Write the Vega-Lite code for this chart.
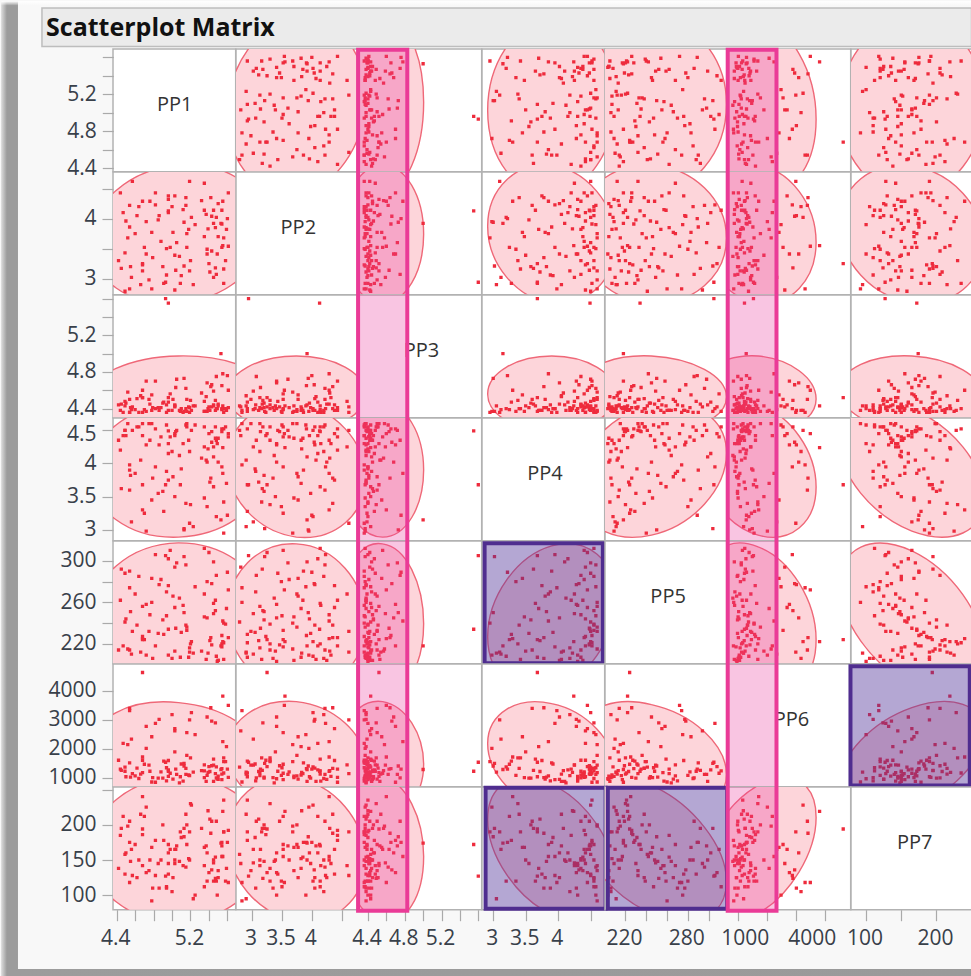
{"$schema":"https://vega.github.io/schema/vega-lite/v6.json","padding":0,"background":"#f8f8f8","columns":7,"spacing":0,"bounds":"flush","align":"each",
"datasets":{"m":[{"PP1":5.07,"PP2":3.74,"PP3":4.56,"PP4":3.9,"PP5":245,"PP6":1700,"PP7":165}],
"d":[
{"PP1":4.57,"PP2":4.62,"PP3":4.42,"PP4":4.5,"PP5":232,"PP6":1150,"PP7":128},
{"PP1":4.44,"PP2":4.43,"PP3":4.38,"PP4":4.2,"PP5":262,"PP6":1300,"PP7":185},
{"PP1":4.54,"PP2":4.22,"PP3":4.5,"PP4":3.6,"PP5":214,"PP6":3400,"PP7":205},
{"PP1":4.64,"PP2":4.2,"PP3":4.36,"PP4":4.55,"PP5":285,"PP6":980,"PP7":150},
{"PP1":4.68,"PP2":4.29,"PP3":4.6,"PP4":3.3,"PP5":225,"PP6":1720,"PP7":240},
{"PP1":4.76,"PP2":4.29,"PP3":4.45,"PP4":4.35,"PP5":248,"PP6":1230,"PP7":150},
{"PP1":4.82,"PP2":4.23,"PP3":4.4,"PP4":3.95,"PP5":306,"PP6":2880,"PP7":128},
{"PP1":4.82,"PP2":4.43,"PP3":4.7,"PP4":4.52,"PP5":218,"PP6":850,"PP7":178},
{"PP1":4.96,"PP2":4.38,"PP3":4.38,"PP4":3.75,"PP5":276,"PP6":1600,"PP7":130},
{"PP1":4.96,"PP2":4.32,"PP3":4.52,"PP4":4.3,"PP5":209,"PP6":1050,"PP7":145},
{"PP1":5.03,"PP2":4.38,"PP3":4.44,"PP4":4.45,"PP5":255,"PP6":2700,"PP7":165},
{"PP1":5.15,"PP2":4.35,"PP3":4.4,"PP4":3.4,"PP5":238,"PP6":1330,"PP7":215},
{"PP1":5.15,"PP2":4.22,"PP3":4.62,"PP4":4.58,"PP5":296,"PP6":1120,"PP7":140},
{"PP1":5.19,"PP2":4.62,"PP3":4.36,"PP4":3.1,"PP5":212,"PP6":3000,"PP7":190},
{"PP1":5.35,"PP2":4.59,"PP3":4.48,"PP4":4.25,"PP5":268,"PP6":1450,"PP7":142},
{"PP1":5.61,"PP2":4.43,"PP3":4.41,"PP4":4.4,"PP5":226,"PP6":1020,"PP7":192},
{"PP1":5.55,"PP2":4.29,"PP3":4.78,"PP4":3.85,"PP5":242,"PP6":2250,"PP7":155},
{"PP1":5.35,"PP2":4.14,"PP3":4.37,"PP4":4.55,"PP5":312,"PP6":1240,"PP7":112},
{"PP1":5.37,"PP2":4.07,"PP3":4.53,"PP4":4.05,"PP5":205,"PP6":880,"PP7":170},
{"PP1":5.45,"PP2":4.14,"PP3":4.43,"PP4":3.65,"PP5":259,"PP6":1650,"PP7":120},
{"PP1":5.54,"PP2":4.14,"PP3":4.39,"PP4":4.48,"PP5":220,"PP6":1130,"PP7":170},
{"PP1":5.43,"PP2":4.04,"PP3":4.66,"PP4":4.32,"PP5":278,"PP6":2960,"PP7":136},
{"PP1":5.48,"PP2":4.02,"PP3":4.4,"PP4":3.2,"PP5":208,"PP6":1380,"PP7":120},
{"PP1":4.5,"PP2":3.96,"PP3":4.46,"PP4":4.42,"PP5":244,"PP6":1040,"PP7":160},
{"PP1":4.54,"PP2":3.86,"PP3":4.36,"PP4":3.9,"PP5":290,"PP6":1520,"PP7":175},
{"PP1":4.52,"PP2":3.68,"PP3":4.58,"PP4":4.6,"PP5":215,"PP6":2150,"PP7":198},
{"PP1":4.85,"PP2":3.98,"PP3":4.41,"PP4":3.55,"PP5":230,"PP6":990,"PP7":145},
{"PP1":4.96,"PP2":4.1,"PP3":4.47,"PP4":4.15,"PP5":302,"PP6":1280,"PP7":160},
{"PP1":5.21,"PP2":4.02,"PP3":4.38,"PP4":4.5,"PP5":222,"PP6":3250,"PP7":228},
{"PP1":5.13,"PP2":3.94,"PP3":4.73,"PP4":3.0,"PP5":250,"PP6":1410,"PP7":183},
{"PP1":5.18,"PP2":3.82,"PP3":4.42,"PP4":4.35,"PP5":207,"PP6":1100,"PP7":152},
{"PP1":5.01,"PP2":3.77,"PP3":4.5,"PP4":3.8,"PP5":266,"PP6":960,"PP7":125},
{"PP1":5.16,"PP2":3.75,"PP3":4.37,"PP4":4.6,"PP5":236,"PP6":1780,"PP7":200},
{"PP1":4.78,"PP2":3.77,"PP3":4.55,"PP4":3.45,"PP5":283,"PP6":2420,"PP7":168},
{"PP1":5.39,"PP2":3.83,"PP3":4.4,"PP4":4.22,"PP5":211,"PP6":1190,"PP7":220},
{"PP1":5.45,"PP2":3.92,"PP3":4.44,"PP4":4.1,"PP5":299,"PP6":880,"PP7":150},
{"PP1":5.54,"PP2":3.91,"PP3":4.65,"PP4":4.52,"PP5":228,"PP6":1320,"PP7":175},
{"PP1":5.59,"PP2":3.82,"PP3":4.38,"PP4":3.7,"PP5":254,"PP6":2080,"PP7":138},
{"PP1":5.5,"PP2":3.7,"PP3":4.43,"PP4":4.38,"PP5":204,"PP6":1060,"PP7":135},
{"PP1":5.56,"PP2":3.68,"PP3":4.36,"PP4":2.95,"PP5":240,"PP6":1560,"PP7":190},
{"PP1":5.61,"PP2":3.54,"PP3":4.6,"PP4":4.45,"PP5":272,"PP6":3500,"PP7":118},
{"PP1":5.54,"PP2":3.52,"PP3":4.4,"PP4":3.95,"PP5":217,"PP6":940,"PP7":155},
{"PP1":4.49,"PP2":3.43,"PP3":4.48,"PP4":4.5,"PP5":288,"PP6":1230,"PP7":130},
{"PP1":4.7,"PP2":3.52,"PP3":4.39,"PP4":3.25,"PP5":224,"PP6":1470,"PP7":212},
{"PP1":4.72,"PP2":3.41,"PP3":4.7,"PP4":4.28,"PP5":258,"PP6":2780,"PP7":132},
{"PP1":4.79,"PP2":3.35,"PP3":4.41,"PP4":3.78,"PP5":206,"PP6":1010,"PP7":110},
{"PP1":4.94,"PP2":3.5,"PP3":4.36,"PP4":4.58,"PP5":247,"PP6":1350,"PP7":112},
{"PP1":4.98,"PP2":3.52,"PP3":4.56,"PP4":4.4,"PP5":310,"PP6":1160,"PP7":165},
{"PP1":5.03,"PP2":3.39,"PP3":4.43,"PP4":3.5,"PP5":213,"PP6":1900,"PP7":150},
{"PP1":5.08,"PP2":3.37,"PP3":4.38,"PP4":4.12,"PP5":264,"PP6":830,"PP7":148},
{"PP1":5.16,"PP2":3.52,"PP3":4.5,"PP4":4.55,"PP5":233,"PP6":2560,"PP7":172},
{"PP1":5.38,"PP2":3.49,"PP3":4.37,"PP4":3.35,"PP5":280,"PP6":1090,"PP7":120},
{"PP1":5.43,"PP2":3.46,"PP3":4.42,"PP4":4.48,"PP5":219,"PP6":1420,"PP7":205},
{"PP1":5.38,"PP2":3.41,"PP3":4.68,"PP4":4.02,"PP5":245,"PP6":3100,"PP7":160},
{"PP1":5.49,"PP2":3.41,"PP3":4.4,"PP4":4.3,"PP5":203,"PP6":970,"PP7":100},
{"PP1":4.45,"PP2":3.17,"PP3":4.45,"PP4":3.62,"PP5":292,"PP6":1260,"PP7":195},
{"PP1":4.68,"PP2":3.23,"PP3":4.36,"PP4":4.42,"PP5":227,"PP6":1610,"PP7":186},
{"PP1":4.68,"PP2":3.13,"PP3":4.52,"PP4":4.6,"PP5":256,"PP6":1180,"PP7":142},
{"PP1":4.56,"PP2":3.02,"PP3":4.39,"PP4":3.12,"PP5":210,"PP6":2340,"PP7":165},
{"PP1":4.94,"PP2":3.06,"PP3":4.44,"PP4":3.88,"PP5":270,"PP6":900,"PP7":110},
{"PP1":5.04,"PP2":3.14,"PP3":4.63,"PP4":4.48,"PP5":235,"PP6":1300,"PP7":165},
{"PP1":5.13,"PP2":3.21,"PP3":4.37,"PP4":3.02,"PP5":304,"PP6":1500,"PP7":195},
{"PP1":5.19,"PP2":3.13,"PP3":4.41,"PP4":4.18,"PP5":216,"PP6":1080,"PP7":150},
{"PP1":5.47,"PP2":3.18,"PP3":4.49,"PP4":4.55,"PP5":252,"PP6":2900,"PP7":124},
{"PP1":5.41,"PP2":3.11,"PP3":4.38,"PP4":3.72,"PP5":223,"PP6":1220,"PP7":208},
{"PP1":5.48,"PP2":3.07,"PP3":4.75,"PP4":4.35,"PP5":286,"PP6":1000,"PP7":205},
{"PP1":5.56,"PP2":3.16,"PP3":4.4,"PP4":3.42,"PP5":205,"PP6":1690,"PP7":190},
{"PP1":4.49,"PP2":2.79,"PP3":4.43,"PP4":4.5,"PP5":241,"PP6":1370,"PP7":158},
{"PP1":4.54,"PP2":2.83,"PP3":4.36,"PP4":3.98,"PP5":274,"PP6":3320,"PP7":118},
{"PP1":4.66,"PP2":2.9,"PP3":4.54,"PP4":4.05,"PP5":212,"PP6":1130,"PP7":215},
{"PP1":4.78,"PP2":2.83,"PP3":4.38,"PP4":4.6,"PP5":260,"PP6":860,"PP7":92},
{"PP1":4.91,"PP2":2.92,"PP3":4.47,"PP4":3.28,"PP5":229,"PP6":1580,"PP7":178},
{"PP1":5.03,"PP2":2.81,"PP3":4.42,"PP4":4.42,"PP5":294,"PP6":2620,"PP7":145},
{"PP1":5.09,"PP2":2.92,"PP3":4.37,"PP4":3.68,"PP5":207,"PP6":1040,"PP7":190},
{"PP1":5.45,"PP2":3.02,"PP3":4.59,"PP4":4.25,"PP5":249,"PP6":1440,"PP7":146},
{"PP1":5.56,"PP2":2.92,"PP3":4.4,"PP4":4.52,"PP5":221,"PP6":1170,"PP7":235},
{"PP1":4.93,"PP2":2.94,"PP3":5.6,"PP4":3.68,"PP5":305,"PP6":1540,"PP7":127},
{"PP1":4.96,"PP2":4.13,"PP3":5.55,"PP4":4.49,"PP5":234,"PP6":1230,"PP7":172},
{"PP1":5.53,"PP2":3.92,"PP3":5.0,"PP4":3.15,"PP5":218,"PP6":1290,"PP7":174},
{"PP1":4.68,"PP2":3.25,"PP3":4.52,"PP4":3.68,"PP5":224,"PP6":4635,"PP7":194},
{"PP1":5.55,"PP2":3.55,"PP3":4.43,"PP4":4.24,"PP5":222,"PP6":3820,"PP7":219},
{"PP1":4.42,"PP2":3.3,"PP3":4.44,"PP4":4.35,"PP5":214,"PP6":1610,"PP7":138},
{"PP1":4.6,"PP2":3.75,"PP3":4.39,"PP4":3.85,"PP5":268,"PP6":1070,"PP7":172},
{"PP1":4.62,"PP2":4.05,"PP3":4.51,"PP4":4.55,"PP5":238,"PP6":1340,"PP7":125},
{"PP1":4.72,"PP2":3.95,"PP3":4.37,"PP4":2.98,"PP5":209,"PP6":2020,"PP7":225},
{"PP1":4.88,"PP2":3.62,"PP3":4.41,"PP4":4.4,"PP5":282,"PP6":1210,"PP7":150},
{"PP1":4.9,"PP2":3.2,"PP3":4.46,"PP4":3.58,"PP5":243,"PP6":990,"PP7":200},
{"PP1":5.0,"PP2":4.2,"PP3":4.38,"PP4":4.18,"PP5":206,"PP6":3180,"PP7":105},
{"PP1":5.05,"PP2":3.6,"PP3":4.72,"PP4":4.5,"PP5":298,"PP6":1120,"PP7":170},
{"PP1":5.1,"PP2":3.05,"PP3":4.4,"PP4":3.92,"PP5":231,"PP6":1480,"PP7":182},
{"PP1":5.12,"PP2":4.15,"PP3":4.36,"PP4":4.3,"PP5":257,"PP6":890,"PP7":142},
{"PP1":5.2,"PP2":3.3,"PP3":4.49,"PP4":3.38,"PP5":220,"PP6":1690,"PP7":230},
{"PP1":5.25,"PP2":3.9,"PP3":4.43,"PP4":4.58,"PP5":275,"PP6":2490,"PP7":100},
{"PP1":5.32,"PP2":4.3,"PP3":4.57,"PP4":4.08,"PP5":213,"PP6":1250,"PP7":195},
{"PP1":5.35,"PP2":3.7,"PP3":4.37,"PP4":3.48,"PP5":246,"PP6":1010,"PP7":168},
{"PP1":5.4,"PP2":3.25,"PP3":4.42,"PP4":4.45,"PP5":308,"PP6":1390,"PP7":132},
{"PP1":5.42,"PP2":4.35,"PP3":4.64,"PP4":3.78,"PP5":226,"PP6":3420,"PP7":188},
{"PP1":5.47,"PP2":3.85,"PP3":4.38,"PP4":4.38,"PP5":262,"PP6":1150,"PP7":154},
{"PP1":5.5,"PP2":4.25,"PP3":4.45,"PP4":4.02,"PP5":204,"PP6":950,"PP7":125},
{"PP1":5.58,"PP2":3.3,"PP3":4.4,"PP4":4.55,"PP5":239,"PP6":1560,"PP7":120},
{"PP1":5.6,"PP2":4.0,"PP3":4.76,"PP4":3.22,"PP5":289,"PP6":1300,"PP7":175},
{"PP1":4.47,"PP2":4.1,"PP3":4.36,"PP4":4.42,"PP5":218,"PP6":2190,"PP7":212},
{"PP1":4.55,"PP2":3.2,"PP3":4.41,"PP4":3.82,"PP5":251,"PP6":1030,"PP7":148},
{"PP1":4.75,"PP2":2.98,"PP3":4.5,"PP4":4.6,"PP5":232,"PP6":1440,"PP7":135},
{"PP1":4.86,"PP2":4.05,"PP3":4.38,"PP4":4.28,"PP5":277,"PP6":3020,"PP7":110},
{"PP1":5.23,"PP2":2.9,"PP3":4.43,"PP4":3.05,"PP5":211,"PP6":1200,"PP7":95}
]},
"concat":[
{"data":{"name":"m"},"layer":[
{"mark":{"type":"rect","fill":{"x1":0,"y1":0,"x2":1,"y2":0,"gradient":"linear","stops":[{"offset":0,"color":"#dddddd"},{"offset":0.002,"color":"#c8c8c8"},{"offset":0.006,"color":"#9c9c9c"},{"offset":1,"color":"#9a9a9a"}]}},"encoding":{"x":{"datum":3.147,"scale":{"domain":[4.36,5.69]}},"x2":{"datum":13.666},"y":{"datum":6.209,"scale":{"domain":[4.36,5.69]}},"y2":{"datum":-4.37}}},
{"mark":{"type":"rect","fill":"#f8f8f8"},"encoding":{"x":{"datum":3.33,"scale":{"domain":[4.36,5.69]}},"x2":{"datum":13.666},"y":{"datum":6.209,"scale":{"domain":[4.36,5.69]}},"y2":{"datum":-4.282}}},
{"mark":{"type":"rect","fill":{"x1":0,"y1":0,"x2":0,"y2":1,"gradient":"linear","stops":[{"offset":0,"color":"#ffffff"},{"offset":1,"color":"rgba(255,255,255,0)"}]}},"encoding":{"x":{"datum":3.147,"scale":{"domain":[4.36,5.69]}},"x2":{"datum":13.666},"y":{"datum":6.209,"scale":{"domain":[4.36,5.69]}},"y2":{"datum":6.16}}},
{"mark":{"type":"rect","fill":"#ebebeb","stroke":"#bdbdbd","strokeWidth":1.5},"encoding":{"x":{"datum":3.59,"scale":{"domain":[4.36,5.69]}},"x2":{"datum":13.666},"y":{"datum":6.134,"scale":{"domain":[4.36,5.69]}},"y2":{"datum":5.717}}},
{"mark":{"type":"text","align":"left","baseline":"alphabetic","font":"Open Sans","fontWeight":"bold","fontSize":25,"color":"#111111"},"encoding":{"x":{"datum":3.634,"scale":{"domain":[4.36,5.69]}},"y":{"datum":5.831,"scale":{"domain":[4.36,5.69]}},"text":{"value":"Scatterplot Matrix"}}},
{"mark":{"type":"rect","fill":"#ffffff","stroke":"#b2b2b2","strokeWidth":1.5},"encoding":{"x":{"datum":4.36,"scale":{"domain":[4.36,5.69]}},"x2":{"datum":5.69},"y":{"datum":4.36,"scale":{"domain":[4.36,5.69]}},"y2":{"datum":5.69}}},
{"mark":"text","encoding":{"x":{"datum":5.03,"scale":{"domain":[4.36,5.69]}},"y":{"datum":5.083,"scale":{"domain":[4.36,5.69]}},"text":{"value":"PP1"}}}]},
{"data":{"name":"m"},"encoding":{"x":{"field":"PP2","type":"quantitative","scale":{"domain":[2.73,4.785]}},"y":{"field":"PP1","type":"quantitative","scale":{"domain":[4.36,5.69]},"axis":{"disable":false,"title":null,"offset":122.7,"values":[4.4,4.6,4.8,5,5.2,5.4,5.6],"labelExpr":"indexof([4.4,4.8,5.2],datum.value)<0?'':''+datum.value"}}},"layer":[{"mark":{"type":"point","clip":true,"shape":"M69 -9C69 40 38 83 0 88C-38 93 -69 57 -69 9C-69 -40 -38 -83 0 -88C38 -93 69 -57 69 -9Z"}},{"data":{"name":"d"},"mark":{"type":"square","clip":true}}]},
{"data":{"name":"m"},"encoding":{"x":{"field":"PP3","type":"quantitative","scale":{"domain":[4.303,5.637]}},"y":{"field":"PP1","type":"quantitative","scale":{"domain":[4.36,5.69]}}},"layer":[{"mark":{"type":"point","clip":true,"shape":"M41 -4C41 44 23 86 0 88C-23 90 -41 53 -41 4C-41 -44 -23 -86 0 -88C23 -90 41 -53 41 -4Z"}},{"data":{"name":"d"},"mark":{"type":"square","clip":true}},{"mark":{"type":"rect","fill":"#ec40a0","fillOpacity":0.3},"encoding":{"x":{"datum":4.303},"x2":{"datum":4.828},"y":{"datum":4.36},"y2":{"datum":5.69}}}]},
{"data":{"name":"m"},"encoding":{"x":{"field":"PP4","type":"quantitative","scale":{"domain":[2.828,4.716]}},"y":{"field":"PP1","type":"quantitative","scale":{"domain":[4.36,5.69]}}},"layer":[{"mark":{"type":"point","clip":true,"shape":"M64 -4C64 44 35 86 0 88C-35 90 -64 53 -64 4C-64 -44 -35 -86 0 -88C35 -90 64 -53 64 -4Z"}},{"data":{"name":"d"},"mark":{"type":"square","clip":true}}]},
{"data":{"name":"m"},"encoding":{"x":{"field":"PP5","type":"quantitative","scale":{"domain":[200.3,318.3]}},"y":{"field":"PP1","type":"quantitative","scale":{"domain":[4.36,5.69]}}},"layer":[{"mark":{"type":"point","clip":true,"shape":"M75 -2C75 47 41 87 0 88C-41 89 -75 50 -75 2C-75 -47 -41 -87 0 -88C41 -89 75 -50 75 -2Z"}},{"data":{"name":"d"},"mark":{"type":"square","clip":true}}]},
{"data":{"name":"m"},"encoding":{"x":{"field":"PP6","type":"quantitative","scale":{"domain":[662,4893]}},"y":{"field":"PP1","type":"quantitative","scale":{"domain":[4.36,5.69]}}},"layer":[{"mark":{"type":"point","clip":true,"shape":"M58 13C58 61 32 94 0 87C-32 80 -58 35 -58 -13C-58 -61 -32 -94 0 -87C32 -80 58 -35 58 13Z"}},{"data":{"name":"d"},"mark":{"type":"square","clip":true}},{"mark":{"type":"rect","fill":"#ec40a0","fillOpacity":0.3},"encoding":{"x":{"datum":662},"x2":{"datum":2334},"y":{"datum":4.36},"y2":{"datum":5.69}}}]},
{"width":122.8,"data":{"name":"m"},"encoding":{"x":{"field":"PP7","type":"quantitative","scale":{"domain":[78.55,253]}},"y":{"field":"PP1","type":"quantitative","scale":{"domain":[4.36,5.69]}}},"layer":[{"mark":{"type":"point","clip":true,"shape":"M72 -3C72 46 40 87 0 88C-40 90 -72 51 -72 3C-72 -46 -40 -87 0 -88C40 -90 72 -51 72 -3Z"}},{"data":{"name":"d"},"mark":{"type":"square","clip":true}}]},

{"data":{"name":"m"},"encoding":{"x":{"field":"PP1","type":"quantitative","scale":{"domain":[4.36,5.69]}},"y":{"field":"PP2","type":"quantitative","scale":{"domain":[2.732,4.777]},"axis":{"disable":false,"title":null,"values":[3,3.5,4,4.5],"labelExpr":"indexof([3,4],datum.value)<0?'':''+datum.value"}}},"layer":[{"mark":{"type":"point","clip":true,"shape":"M88 -7C88 31 49 65 0 69C-49 73 -88 45 -88 7C-88 -31 -49 -65 0 -69C49 -73 88 -45 88 -7Z"}},{"data":{"name":"d"},"mark":{"type":"square","clip":true}}]},
{"data":{"name":"m"},"layer":[{"mark":"text","encoding":{"x":{"datum":3.774,"scale":{"domain":[2.73,4.785]}},"y":{"datum":3.839,"scale":{"domain":[2.732,4.777]}},"text":{"value":"PP2"}}}]},
{"data":{"name":"m"},"encoding":{"x":{"field":"PP3","type":"quantitative","scale":{"domain":[4.303,5.637]}},"y":{"field":"PP2","type":"quantitative","scale":{"domain":[2.732,4.777]}}},"layer":[{"mark":{"type":"point","clip":true,"shape":"M41 0C41 38 23 69 0 69C-23 69 -41 38 -41 0C-41 -38 -23 -69 0 -69C23 -69 41 -38 41 0Z"}},{"data":{"name":"d"},"mark":{"type":"square","clip":true}},{"mark":{"type":"rect","fill":"#ec40a0","fillOpacity":0.3},"encoding":{"x":{"datum":4.303},"x2":{"datum":4.828},"y":{"datum":2.732},"y2":{"datum":4.777}}}]},
{"data":{"name":"m"},"encoding":{"x":{"field":"PP4","type":"quantitative","scale":{"domain":[2.828,4.716]}},"y":{"field":"PP2","type":"quantitative","scale":{"domain":[2.732,4.777]}}},"layer":[{"mark":{"type":"point","clip":true,"shape":"M64 8C64 46 35 73 0 69C-35 64 -64 30 -64 -8C-64 -46 -35 -73 0 -69C35 -64 64 -30 64 8Z"}},{"data":{"name":"d"},"mark":{"type":"square","clip":true}}]},
{"data":{"name":"m"},"encoding":{"x":{"field":"PP5","type":"quantitative","scale":{"domain":[200.3,318.3]}},"y":{"field":"PP2","type":"quantitative","scale":{"domain":[2.732,4.777]}}},"layer":[{"mark":{"type":"point","clip":true,"shape":"M75 4C75 42 41 71 0 69C-41 67 -75 35 -75 -4C-75 -42 -41 -71 0 -69C41 -67 75 -35 75 4Z"}},{"data":{"name":"d"},"mark":{"type":"square","clip":true}}]},
{"data":{"name":"m"},"encoding":{"x":{"field":"PP6","type":"quantitative","scale":{"domain":[662,4893]}},"y":{"field":"PP2","type":"quantitative","scale":{"domain":[2.732,4.777]}}},"layer":[{"mark":{"type":"point","clip":true,"shape":"M58 8C58 46 32 73 0 69C-32 64 -58 30 -58 -8C-58 -46 -32 -73 0 -69C32 -64 58 -30 58 8Z"}},{"data":{"name":"d"},"mark":{"type":"square","clip":true}},{"mark":{"type":"rect","fill":"#ec40a0","fillOpacity":0.3},"encoding":{"x":{"datum":662},"x2":{"datum":2334},"y":{"datum":2.732},"y2":{"datum":4.777}}}]},
{"width":122.8,"data":{"name":"m"},"encoding":{"x":{"field":"PP7","type":"quantitative","scale":{"domain":[78.55,253]}},"y":{"field":"PP2","type":"quantitative","scale":{"domain":[2.732,4.777]}}},"layer":[{"mark":{"type":"point","clip":true,"shape":"M72 10C72 48 40 74 0 68C-40 63 -72 27 -72 -10C-72 -48 -40 -74 0 -68C40 -63 72 -27 72 10Z"}},{"data":{"name":"d"},"mark":{"type":"square","clip":true}}]},

{"data":{"name":"m"},"encoding":{"x":{"field":"PP1","type":"quantitative","scale":{"domain":[4.36,5.69]}},"y":{"field":"PP3","type":"quantitative","scale":{"domain":[4.301,5.639]},"axis":{"disable":false,"title":null,"values":[4.4,4.6,4.8,5,5.2,5.4,5.6],"labelExpr":"indexof([4.4,4.8,5.2],datum.value)<0?'':''+datum.value"}}},"layer":[{"mark":{"type":"point","clip":true,"shape":"M88 -2C88 19 49 37 0 38C-49 39 -88 23 -88 2C-88 -19 -49 -37 0 -38C49 -39 88 -23 88 -2Z"}},{"data":{"name":"d"},"mark":{"type":"square","clip":true}}]},
{"data":{"name":"m"},"encoding":{"x":{"field":"PP2","type":"quantitative","scale":{"domain":[2.73,4.785]}},"y":{"field":"PP3","type":"quantitative","scale":{"domain":[4.301,5.639]}}},"layer":[{"mark":{"type":"point","clip":true,"shape":"M69 0C69 21 38 38 0 38C-38 38 -69 21 -69 0C-69 -21 -38 -38 0 -38C38 -38 69 -21 69 0Z"}},{"data":{"name":"d"},"mark":{"type":"square","clip":true}}]},
{"data":{"name":"m"},"layer":[{"mark":"text","encoding":{"x":{"datum":4.983,"scale":{"domain":[4.303,5.637]}},"y":{"datum":5.032,"scale":{"domain":[4.301,5.639]}},"text":{"value":"PP3"}}},{"mark":{"type":"rect","fill":"#ec40a0","fillOpacity":0.3},"encoding":{"x":{"datum":4.303,"scale":{"domain":[4.303,5.637]}},"x2":{"datum":4.828},"y":{"datum":4.301,"scale":{"domain":[4.301,5.639]}},"y2":{"datum":5.639}}}]},
{"data":{"name":"m"},"encoding":{"x":{"field":"PP4","type":"quantitative","scale":{"domain":[2.828,4.716]}},"y":{"field":"PP3","type":"quantitative","scale":{"domain":[4.301,5.639]}}},"layer":[{"mark":{"type":"point","clip":true,"shape":"M64 0C64 21 35 38 0 38C-35 38 -64 21 -64 0C-64 -21 -35 -38 0 -38C35 -38 64 -21 64 0Z"}},{"data":{"name":"d"},"mark":{"type":"square","clip":true}}]},
{"data":{"name":"m"},"encoding":{"x":{"field":"PP5","type":"quantitative","scale":{"domain":[200.3,318.3]}},"y":{"field":"PP3","type":"quantitative","scale":{"domain":[4.301,5.639]}}},"layer":[{"mark":{"type":"point","clip":true,"shape":"M75 3C75 24 41 40 0 38C-41 36 -75 18 -75 -3C-75 -24 -41 -40 0 -38C41 -36 75 -18 75 3Z"}},{"data":{"name":"d"},"mark":{"type":"square","clip":true}}]},
{"data":{"name":"m"},"encoding":{"x":{"field":"PP6","type":"quantitative","scale":{"domain":[662,4893]}},"y":{"field":"PP3","type":"quantitative","scale":{"domain":[4.301,5.639]}}},"layer":[{"mark":{"type":"point","clip":true,"shape":"M58 5C58 25 32 40 0 38C-32 35 -58 16 -58 -5C-58 -25 -32 -40 0 -38C32 -35 58 -16 58 5Z"}},{"data":{"name":"d"},"mark":{"type":"square","clip":true}},{"mark":{"type":"rect","fill":"#ec40a0","fillOpacity":0.3},"encoding":{"x":{"datum":662},"x2":{"datum":2334},"y":{"datum":4.301},"y2":{"datum":5.639}}}]},
{"width":122.8,"data":{"name":"m"},"encoding":{"x":{"field":"PP7","type":"quantitative","scale":{"domain":[78.55,253]}},"y":{"field":"PP3","type":"quantitative","scale":{"domain":[4.301,5.639]}}},"layer":[{"mark":{"type":"point","clip":true,"shape":"M72 4C72 25 40 40 0 38C-40 36 -72 17 -72 -4C-72 -25 -40 -40 0 -38C40 -36 72 -17 72 4Z"}},{"data":{"name":"d"},"mark":{"type":"square","clip":true}}]},

{"data":{"name":"m"},"encoding":{"x":{"field":"PP1","type":"quantitative","scale":{"domain":[4.36,5.69]}},"y":{"field":"PP4","type":"quantitative","scale":{"domain":[2.837,4.685]},"axis":{"disable":false,"title":null,"values":[3,3.5,4,4.5],"labelExpr":"''+datum.value","labelOffset":{"condition":{"test":"datum.value==4.5","value":4},"value":0}}}},"layer":[{"mark":{"type":"point","clip":true,"shape":"M88 -3C88 34 49 65 0 67C-49 69 -88 40 -88 3C-88 -34 -49 -65 0 -67C49 -69 88 -40 88 -3Z"}},{"data":{"name":"d"},"mark":{"type":"square","clip":true}}]},
{"data":{"name":"m"},"encoding":{"x":{"field":"PP2","type":"quantitative","scale":{"domain":[2.73,4.785]}},"y":{"field":"PP4","type":"quantitative","scale":{"domain":[2.837,4.685]}}},"layer":[{"mark":{"type":"point","clip":true,"shape":"M69 8C69 45 38 71 0 67C-38 62 -69 29 -69 -8C-69 -45 -38 -71 0 -67C38 -62 69 -29 69 8Z"}},{"data":{"name":"d"},"mark":{"type":"square","clip":true}}]},
{"data":{"name":"m"},"encoding":{"x":{"field":"PP3","type":"quantitative","scale":{"domain":[4.303,5.637]}},"y":{"field":"PP4","type":"quantitative","scale":{"domain":[2.837,4.685]}}},"layer":[{"mark":{"type":"point","clip":true,"shape":"M41 0C41 37 23 67 0 67C-23 67 -41 37 -41 0C-41 -37 -23 -67 0 -67C23 -67 41 -37 41 0Z"}},{"data":{"name":"d"},"mark":{"type":"square","clip":true}},{"mark":{"type":"rect","fill":"#ec40a0","fillOpacity":0.3},"encoding":{"x":{"datum":4.303},"x2":{"datum":4.828},"y":{"datum":2.837},"y2":{"datum":4.685}}}]},
{"data":{"name":"m"},"layer":[{"mark":"text","encoding":{"x":{"datum":3.796,"scale":{"domain":[2.828,4.716]}},"y":{"datum":3.843,"scale":{"domain":[2.837,4.685]}},"text":{"value":"PP4"}}}]},
{"data":{"name":"m"},"encoding":{"x":{"field":"PP5","type":"quantitative","scale":{"domain":[200.3,318.3]}},"y":{"field":"PP4","type":"quantitative","scale":{"domain":[2.837,4.685]}}},"layer":[{"mark":{"type":"point","clip":true,"shape":"M75 -17C75 19 41 56 0 65C-41 74 -75 53 -75 17C-75 -19 -41 -56 0 -65C41 -74 75 -53 75 -17Z"}},{"data":{"name":"d"},"mark":{"type":"square","clip":true}}]},
{"data":{"name":"m"},"encoding":{"x":{"field":"PP6","type":"quantitative","scale":{"domain":[662,4893]}},"y":{"field":"PP4","type":"quantitative","scale":{"domain":[2.837,4.685]}}},"layer":[{"mark":{"type":"point","clip":true,"shape":"M58 17C58 53 32 74 0 65C-32 56 -58 19 -58 -17C-58 -53 -32 -74 0 -65C32 -56 58 -19 58 17Z"}},{"data":{"name":"d"},"mark":{"type":"square","clip":true}},{"mark":{"type":"rect","fill":"#ec40a0","fillOpacity":0.3},"encoding":{"x":{"datum":662},"x2":{"datum":2334},"y":{"datum":2.837},"y2":{"datum":4.685}}}]},
{"width":122.8,"data":{"name":"m"},"encoding":{"x":{"field":"PP7","type":"quantitative","scale":{"domain":[78.55,253]}},"y":{"field":"PP4","type":"quantitative","scale":{"domain":[2.837,4.685]}}},"layer":[{"mark":{"type":"point","clip":true,"shape":"M72 28C72 62 40 76 0 61C-40 45 -72 6 -72 -28C-72 -62 -40 -76 0 -61C40 -45 72 -6 72 28Z"}},{"data":{"name":"d"},"mark":{"type":"square","clip":true}}]},

{"data":{"name":"m"},"encoding":{"x":{"field":"PP1","type":"quantitative","scale":{"domain":[4.36,5.69]}},"y":{"field":"PP5","type":"quantitative","scale":{"domain":[200.8,319.1]},"axis":{"disable":false,"title":null,"values":[220,240,260,280,300],"labelExpr":"indexof([220,260,300],datum.value)<0?'':''+datum.value"}}},"layer":[{"mark":{"type":"point","clip":true,"shape":"M88 -2C88 40 49 74 0 75C-49 75 -88 43 -88 2C-88 -40 -49 -74 0 -75C49 -75 88 -43 88 -2Z"}},{"data":{"name":"d"},"mark":{"type":"square","clip":true}}]},
{"data":{"name":"m"},"encoding":{"x":{"field":"PP2","type":"quantitative","scale":{"domain":[2.73,4.785]}},"y":{"field":"PP5","type":"quantitative","scale":{"domain":[200.8,319.1]}}},"layer":[{"mark":{"type":"point","clip":true,"shape":"M69 4C69 45 38 76 0 74C-38 72 -69 37 -69 -4C-69 -45 -38 -76 0 -74C38 -72 69 -37 69 4Z"}},{"data":{"name":"d"},"mark":{"type":"square","clip":true}}]},
{"data":{"name":"m"},"encoding":{"x":{"field":"PP3","type":"quantitative","scale":{"domain":[4.303,5.637]}},"y":{"field":"PP5","type":"quantitative","scale":{"domain":[200.8,319.1]}}},"layer":[{"mark":{"type":"point","clip":true,"shape":"M41 6C41 47 23 78 0 74C-23 71 -41 35 -41 -6C-41 -47 -23 -78 0 -74C23 -71 41 -35 41 6Z"}},{"data":{"name":"d"},"mark":{"type":"square","clip":true}},{"mark":{"type":"rect","fill":"#ec40a0","fillOpacity":0.3},"encoding":{"x":{"datum":4.303},"x2":{"datum":4.828},"y":{"datum":200.8},"y2":{"datum":319.1}}}]},
{"data":{"name":"m"},"encoding":{"x":{"field":"PP4","type":"quantitative","scale":{"domain":[2.828,4.716]}},"y":{"field":"PP5","type":"quantitative","scale":{"domain":[200.8,319.1]}}},"layer":[{"mark":{"type":"point","clip":true,"shape":"M64 -19C64 21 35 62 0 72C-35 82 -64 58 -64 19C-64 -21 -35 -62 0 -72C35 -82 64 -58 64 -19Z"}},{"data":{"name":"d"},"mark":{"type":"square","clip":true}},{"mark":{"type":"rect","fill":"#50329a","fillOpacity":0.43,"stroke":"#4f2d8f","strokeWidth":4},"encoding":{"x":{"datum":2.868},"x2":{"datum":4.688},"y":{"datum":201.3},"y2":{"datum":317}}}]},
{"data":{"name":"m"},"layer":[{"mark":"text","encoding":{"x":{"datum":261,"scale":{"domain":[200.3,318.3]}},"y":{"datum":264.8,"scale":{"domain":[200.8,319.1]}},"text":{"value":"PP5"}}}]},
{"data":{"name":"m"},"encoding":{"x":{"field":"PP6","type":"quantitative","scale":{"domain":[662,4893]}},"y":{"field":"PP5","type":"quantitative","scale":{"domain":[200.8,319.1]}}},"layer":[{"mark":{"type":"point","clip":true,"shape":"M58 22C58 62 32 84 0 71C-32 59 -58 17 -58 -22C-58 -62 -32 -84 0 -71C32 -59 58 -17 58 22Z"}},{"data":{"name":"d"},"mark":{"type":"square","clip":true}},{"mark":{"type":"rect","fill":"#ec40a0","fillOpacity":0.3},"encoding":{"x":{"datum":662},"x2":{"datum":2334},"y":{"datum":200.8},"y2":{"datum":319.1}}}]},
{"width":122.8,"data":{"name":"m"},"encoding":{"x":{"field":"PP7","type":"quantitative","scale":{"domain":[78.55,253]}},"y":{"field":"PP5","type":"quantitative","scale":{"domain":[200.8,319.1]}}},"layer":[{"mark":{"type":"point","clip":true,"shape":"M72 34C72 70 40 85 0 67C-40 48 -72 3 -72 -34C-72 -70 -40 -85 0 -67C40 -48 72 -3 72 34Z"}},{"data":{"name":"d"},"mark":{"type":"square","clip":true}}]},

{"data":{"name":"m"},"encoding":{"x":{"field":"PP1","type":"quantitative","scale":{"domain":[4.36,5.69]}},"y":{"field":"PP6","type":"quantitative","scale":{"domain":[697,4928]},"axis":{"disable":false,"title":null,"values":[1000,2000,3000,4000],"labelExpr":"''+datum.value"}}},"layer":[{"mark":{"type":"point","clip":true,"shape":"M88 8C88 39 49 60 0 55C-49 51 -88 22 -88 -8C-88 -39 -49 -60 0 -55C49 -51 88 -22 88 8Z"}},{"data":{"name":"d"},"mark":{"type":"square","clip":true}}]},
{"data":{"name":"m"},"encoding":{"x":{"field":"PP2","type":"quantitative","scale":{"domain":[2.73,4.785]}},"y":{"field":"PP6","type":"quantitative","scale":{"domain":[697,4928]}}},"layer":[{"mark":{"type":"point","clip":true,"shape":"M69 7C69 37 38 59 0 56C-38 52 -69 24 -69 -7C-69 -37 -38 -59 0 -56C38 -52 69 -24 69 7Z"}},{"data":{"name":"d"},"mark":{"type":"square","clip":true}}]},
{"data":{"name":"m"},"encoding":{"x":{"field":"PP3","type":"quantitative","scale":{"domain":[4.303,5.637]}},"y":{"field":"PP6","type":"quantitative","scale":{"domain":[697,4928]}}},"layer":[{"mark":{"type":"point","clip":true,"shape":"M41 7C41 37 23 59 0 56C-23 52 -41 24 -41 -7C-41 -37 -23 -59 0 -56C23 -52 41 -24 41 7Z"}},{"data":{"name":"d"},"mark":{"type":"square","clip":true}},{"mark":{"type":"rect","fill":"#ec40a0","fillOpacity":0.3},"encoding":{"x":{"datum":4.303},"x2":{"datum":4.828},"y":{"datum":697},"y2":{"datum":4928}}}]},
{"data":{"name":"m"},"encoding":{"x":{"field":"PP4","type":"quantitative","scale":{"domain":[2.828,4.716]}},"y":{"field":"PP6","type":"quantitative","scale":{"domain":[697,4928]}}},"layer":[{"mark":{"type":"point","clip":true,"shape":"M64 14C64 44 35 62 0 54C-35 47 -64 16 -64 -14C-64 -44 -35 -62 0 -54C35 -47 64 -16 64 14Z"}},{"data":{"name":"d"},"mark":{"type":"square","clip":true}}]},
{"data":{"name":"m"},"encoding":{"x":{"field":"PP5","type":"quantitative","scale":{"domain":[200.3,318.3]}},"y":{"field":"PP6","type":"quantitative","scale":{"domain":[697,4928]}}},"layer":[{"mark":{"type":"point","clip":true,"shape":"M75 17C75 46 41 63 0 53C-41 44 -75 13 -75 -17C-75 -46 -41 -63 0 -53C41 -44 75 -13 75 17Z"}},{"data":{"name":"d"},"mark":{"type":"square","clip":true}}]},
{"data":{"name":"m"},"layer":[{"mark":"text","encoding":{"x":{"datum":2852,"scale":{"domain":[662,4893]}},"y":{"datum":3014,"scale":{"domain":[697,4928]}},"text":{"value":"PP6"}}},{"mark":{"type":"rect","fill":"#ec40a0","fillOpacity":0.3},"encoding":{"x":{"datum":662,"scale":{"domain":[662,4893]}},"x2":{"datum":2334},"y":{"datum":697,"scale":{"domain":[697,4928]}},"y2":{"datum":4928}}}]},
{"width":122.8,"data":{"name":"m"},"encoding":{"x":{"field":"PP7","type":"quantitative","scale":{"domain":[78.55,253]}},"y":{"field":"PP6","type":"quantitative","scale":{"domain":[697,4928]}}},"layer":[{"mark":{"type":"point","clip":true,"shape":"M72 -25C72 2 40 36 0 50C-40 64 -72 53 -72 25C-72 -2 -40 -36 0 -50C40 -64 72 -53 72 -25Z"}},{"data":{"name":"d"},"mark":{"type":"square","clip":true}},{"mark":{"type":"rect","fill":"#50329a","fillOpacity":0.43,"stroke":"#4f2d8f","strokeWidth":4},"encoding":{"x":{"datum":77.8},"x2":{"datum":247.3},"y":{"datum":738},"y2":{"datum":4852}}}]},

{"data":{"name":"m"},"encoding":{"x":{"field":"PP1","type":"quantitative","scale":{"domain":[4.36,5.69]},"axis":{"disable":false,"title":null,"values":[4.4,4.6,4.8,5,5.2,5.4,5.6],"labelExpr":"indexof([4.4,5.2],datum.value)<0?'':''+datum.value"}},"y":{"field":"PP7","type":"quantitative","scale":{"domain":[79.4,253.7]},"axis":{"disable":false,"title":null,"values":[100,150,200,250],"labelExpr":"indexof([100,150,200],datum.value)<0?'':''+datum.value"}}},"layer":[{"mark":{"type":"point","clip":true,"shape":"M88 -2C88 38 49 71 0 72C-49 73 -88 42 -88 2C-88 -38 -49 -71 0 -72C49 -73 88 -42 88 -2Z"}},{"data":{"name":"d"},"mark":{"type":"square","clip":true}}]},
{"data":{"name":"m"},"encoding":{"x":{"field":"PP2","type":"quantitative","scale":{"domain":[2.73,4.785]},"axis":{"disable":false,"title":null,"values":[3,3.5,4,4.5],"labelExpr":"indexof([3,3.5,4],datum.value)<0?'':''+datum.value"}},"y":{"field":"PP7","type":"quantitative","scale":{"domain":[79.4,253.7]}}},"layer":[{"mark":{"type":"point","clip":true,"shape":"M69 11C69 50 38 77 0 71C-38 65 -69 29 -69 -11C-69 -50 -38 -77 0 -71C38 -65 69 -29 69 11Z"}},{"data":{"name":"d"},"mark":{"type":"square","clip":true}}]},
{"data":{"name":"m"},"encoding":{"x":{"field":"PP3","type":"quantitative","scale":{"domain":[4.303,5.637]},"axis":{"disable":false,"title":null,"values":[4.4,4.6,4.8,5,5.2,5.4,5.6],"labelExpr":"indexof([4.4,4.8,5.2],datum.value)<0?'':''+datum.value"}},"y":{"field":"PP7","type":"quantitative","scale":{"domain":[79.4,253.7]}}},"layer":[{"mark":{"type":"point","clip":true,"shape":"M41 7C41 47 23 76 0 72C-23 68 -41 32 -41 -7C-41 -47 -23 -76 0 -72C23 -68 41 -32 41 7Z"}},{"data":{"name":"d"},"mark":{"type":"square","clip":true}},{"mark":{"type":"rect","fill":"#ec40a0","fillOpacity":0.3},"encoding":{"x":{"datum":4.303},"x2":{"datum":4.828},"y":{"datum":79.4},"y2":{"datum":253.7}}},{"mark":{"type":"rect","fill":"transparent","stroke":"#ea3b97","strokeWidth":4},"encoding":{"x":{"datum":4.293},"x2":{"datum":4.828},"y":{"datum":77.8},"y2":{"datum":1300.9}}}]},
{"data":{"name":"m"},"encoding":{"x":{"field":"PP4","type":"quantitative","scale":{"domain":[2.828,4.716]},"axis":{"disable":false,"title":null,"values":[3,3.5,4,4.5],"labelExpr":"indexof([3,3.5,4],datum.value)<0?'':''+datum.value"}},"y":{"field":"PP7","type":"quantitative","scale":{"domain":[79.4,253.7]}}},"layer":[{"mark":{"type":"point","clip":true,"shape":"M64 30C64 66 35 82 0 65C-35 49 -64 6 -64 -30C-64 -66 -35 -82 0 -65C35 -49 64 -6 64 30Z"}},{"data":{"name":"d"},"mark":{"type":"square","clip":true}},{"mark":{"type":"rect","fill":"#50329a","fillOpacity":0.43,"stroke":"#4f2d8f","strokeWidth":4},"encoding":{"x":{"datum":2.883},"x2":{"datum":4.73},"y":{"datum":80.7},"y2":{"datum":252.6}}}]},
{"data":{"name":"m"},"encoding":{"x":{"field":"PP5","type":"quantitative","scale":{"domain":[200.3,318.3]},"axis":{"disable":false,"title":null,"values":[220,240,260,280,300],"labelExpr":"indexof([220,280],datum.value)<0?'':''+datum.value"}},"y":{"field":"PP7","type":"quantitative","scale":{"domain":[79.4,253.7]}}},"layer":[{"mark":{"type":"point","clip":true,"shape":"M75 32C75 68 41 82 0 64C-41 46 -75 3 -75 -32C-75 -68 -41 -82 0 -64C41 -46 75 -3 75 32Z"}},{"data":{"name":"d"},"mark":{"type":"square","clip":true}},{"mark":{"type":"rect","fill":"#50329a","fillOpacity":0.43,"stroke":"#4f2d8f","strokeWidth":4},"encoding":{"x":{"datum":203},"x2":{"datum":317.8},"y":{"datum":80.7},"y2":{"datum":252.6}}}]},
{"data":{"name":"m"},"encoding":{"x":{"field":"PP6","type":"quantitative","scale":{"domain":[662,4893]},"axis":{"disable":false,"title":null,"values":[1000,2000,3000,4000],"labelExpr":"indexof([1000,4000],datum.value)<0?'':''+datum.value","labelOffset":{"condition":{"test":"datum.value==1000","value":7},"value":-13}}},"y":{"field":"PP7","type":"quantitative","scale":{"domain":[79.4,253.7]}}},"layer":[{"mark":{"type":"point","clip":true,"shape":"M58 -32C58 3 32 46 0 64C-32 82 -58 68 -58 32C-58 -3 -32 -46 0 -64C32 -82 58 -68 58 -32Z"}},{"data":{"name":"d"},"mark":{"type":"square","clip":true}},{"mark":{"type":"rect","fill":"#ec40a0","fillOpacity":0.3},"encoding":{"x":{"datum":662},"x2":{"datum":2334},"y":{"datum":79.4},"y2":{"datum":253.7}}},{"mark":{"type":"rect","fill":"transparent","stroke":"#ea3b97","strokeWidth":4},"encoding":{"x":{"datum":652},"x2":{"datum":2334},"y":{"datum":77.8},"y2":{"datum":1300.9}}}]},
{"width":122.8,"data":{"name":"m"},"layer":[{"mark":"text","encoding":{"x":{"datum":169.2,"scale":{"domain":[78.55,253]},"axis":{"disable":false,"title":null,"values":[100,150,200,250],"labelExpr":"indexof([100,200],datum.value)<0?'':''+datum.value"}},"y":{"datum":174.4,"scale":{"domain":[79.4,253.7]}},"text":{"value":"PP7"}}}]}
],
"config":{"view":{"continuousWidth":122.7,"continuousHeight":122.7,"fill":"#ffffff","stroke":"#b2b2b2","strokeWidth":1.5},
"axis":{"disable":true,"domain":false,"grid":false,"tickColor":"#aaaaaa","tickSize":11,"tickWidth":1.2,"labelFont":"Open Sans","labelFontSize":21,"labelColor":"#38404a","labelPadding":6,"labelOverlap":false,"labelBound":false,"labelFlush":false},
"axisX":{"labelOffset":-1.5,"labelPadding":7},
"point":{"size":4,"filled":true,"fill":"#fdd5da","stroke":"#ef6878","strokeWidth":1.4,"opacity":1},
"square":{"size":11,"color":"#ee2b3c","opacity":1},
"text":{"font":"Open Sans","fontSize":20,"color":"#333333","align":"center","baseline":"middle"}}}
